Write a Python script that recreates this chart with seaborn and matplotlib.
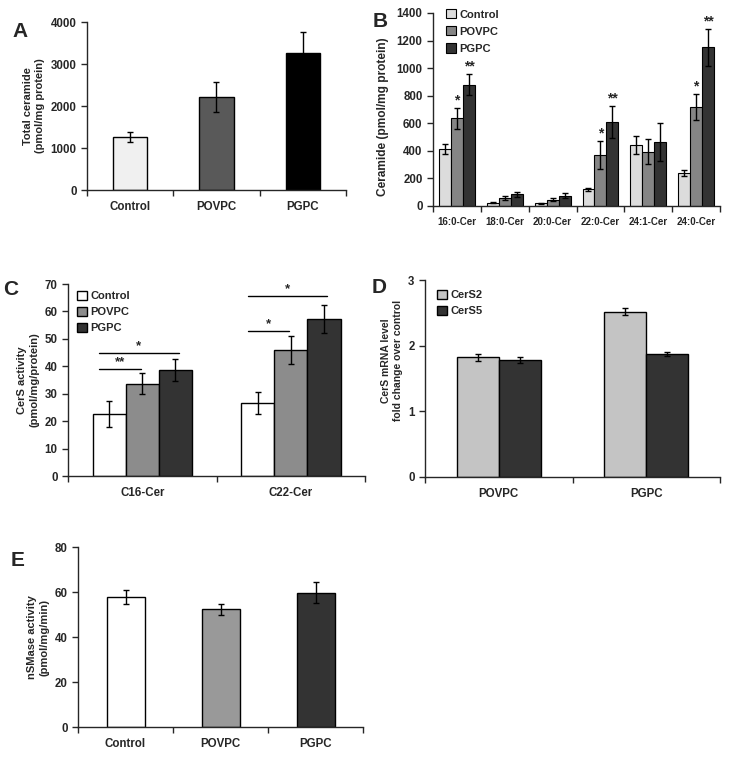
import numpy as np
import pandas as pd
import seaborn as sns
import matplotlib.pyplot as plt

# ---- data ----
treat = ['Control', 'POVPC', 'PGPC']

# A: total ceramide
a_vals = [1270, 2220, 3270]
a_err = [120, 360, 500]

# B: ceramide species
b_species = ['16:0-Cer', '18:0-Cer', '20:0-Cer', '22:0-Cer', '24:1-Cer', '24:0-Cer']
b_control = [415, 25, 20, 120, 440, 240]
b_control_err = [35, 5, 3, 8, 65, 20]
b_povpc = [635, 55, 45, 370, 395, 715]
b_povpc_err = [75, 15, 12, 100, 90, 95]
b_pgpc = [880, 85, 75, 610, 465, 1150]
b_pgpc_err = [75, 20, 18, 115, 140, 135]
b_stars_povpc = ['*', '', '', '*', '', '*']
b_stars_pgpc = ['**', '', '', '**', '', '**']

# C: CerS activity
c_subs = ['C16-Cer', 'C22-Cer']
c_control = [22.5, 26.5]
c_control_err = [4.7, 4.0]
c_povpc = [33.7, 46.0]
c_povpc_err = [3.7, 5.1]
c_pgpc = [38.8, 57.3]
c_pgpc_err = [4.0, 5.2]
# brackets: (group, target treatment, height, label)
c_brackets = [(0, 1, 38.9, '**'), (0, 2, 44.7, '*'), (1, 1, 52.9, '*'), (1, 2, 65.6, '*')]

# D: CerS mRNA
d_treat = ['POVPC', 'PGPC']
d_genes = ['CerS2', 'CerS5']
d_cers2 = [1.82, 2.52]
d_cers2_err = [0.06, 0.05]
d_cers5 = [1.78, 1.87]
d_cers5_err = [0.04, 0.03]

# E: nSMase activity
e_vals = [57.7, 52.3, 59.7]
e_err = [3.2, 2.5, 4.7]

sns.set_style('ticks')
plt.rcParams['font.family'] = ['Liberation Sans', 'DejaVu Sans']
plt.rcParams['font.weight'] = 'bold'
plt.rcParams['axes.labelweight'] = 'bold'

fig = plt.figure(figsize=(7.29, 7.57), dpi=100)


def style_axis(ax, ncat, fs=8.3, xfs=None):
    sns.despine(ax=ax)
    ax.spines['left'].set_linewidth(1.0)
    ax.spines['bottom'].set_linewidth(1.0)
    ax.set_xlim(-0.5, ncat - 0.5)
    ax.set_xticks(np.arange(-0.5, ncat, 1.0), minor=True)
    ax.tick_params(axis='x', which='major', length=0, pad=8, labelsize=xfs or fs)
    ax.tick_params(axis='x', which='minor', length=4, width=1.0, direction='out')
    ax.tick_params(axis='y', length=4, width=1.0, direction='out', labelsize=fs)
    for t in ax.get_xticklabels() + ax.get_yticklabels():
        t.set_fontweight('bold')
    ax.set_xlabel('')


def add_err(ax, container, errs):
    xs = [p.get_x() + p.get_width() / 2 for p in container]
    ys = [p.get_height() for p in container]
    ax.errorbar(xs, ys, yerr=errs, fmt='none', ecolor='black', elinewidth=1.0,
                capsize=2.2, capthick=1.0, zorder=5)
    return xs, ys


def legend_box(ax, fs, anchor, spacing=0.5):
    leg = ax.legend(loc='upper left', bbox_to_anchor=anchor, frameon=False, fontsize=fs,
                    handlelength=0.9, handleheight=0.9, handletextpad=0.3,
                    labelspacing=spacing, borderaxespad=0.0, borderpad=0.0)
    for t in leg.get_texts():
        t.set_fontweight('bold')


# ---- A ----
axA = fig.add_axes([0.1193, 0.749, 0.3553, 0.2219])
dfA = pd.DataFrame({'treat': treat, 'val': a_vals})
sns.barplot(data=dfA, x='treat', y='val', hue='treat', palette=['#f0f0f0', '#595959', '#000000'],
            width=0.4, edgecolor='black', linewidth=1.0, errorbar=None, legend=False, ax=axA)
for c, e in zip(axA.containers, a_err):
    add_err(axA, c, [e])
axA.set_ylim(0, 4000)
axA.set_yticks([0, 1000, 2000, 3000, 4000])
axA.set_ylabel('Total ceramide\n(pmol/mg protein)', fontsize=8, fontweight='bold')
style_axis(axA, 3)
fig.text(0.027, 0.959, 'A', fontsize=15, fontweight='bold', ha='center', va='center')

# ---- B ----
axB = fig.add_axes([0.594, 0.7279, 0.3937, 0.255])
dfB = pd.DataFrame({
    'species': b_species * 3,
    'treat': ['Control'] * 6 + ['POVPC'] * 6 + ['PGPC'] * 6,
    'val': b_control + b_povpc + b_pgpc,
})
sns.barplot(data=dfB, x='species', y='val', hue='treat', hue_order=treat,
            palette=['#dcdcdc', '#858585', '#333333'], width=0.75,
            edgecolor='black', linewidth=0.8, errorbar=None, ax=axB)
b_errs = [b_control_err, b_povpc_err, b_pgpc_err]
b_stars = [None, b_stars_povpc, b_stars_pgpc]
for c, errs, stars in zip(axB.containers, b_errs, b_stars):
    xs, ys = add_err(axB, c, errs)
    if stars:
        for x, y, e, s in zip(xs, ys, errs, stars):
            if s:
                axB.text(x, y + e + 5, s, ha='center', va='bottom', fontsize=10,
                         fontweight='bold')
axB.set_ylim(0, 1400)
axB.set_yticks(np.arange(0, 1401, 200))
axB.set_ylabel('Ceramide (pmol/mg protein)', fontsize=8.6, fontweight='bold')
axB.yaxis.set_label_coords(-0.155, 0.465)
style_axis(axB, 6, fs=8.3, xfs=7.0)
legend_box(axB, 8, (0.045, 1.02), spacing=0.6)
fig.text(0.521, 0.972, 'B', fontsize=15, fontweight='bold', ha='center', va='center')

# ---- C ----
axC = fig.add_axes([0.0933, 0.3712, 0.4074, 0.2536])
dfC = pd.DataFrame({
    'sub': c_subs * 3,
    'treat': ['Control'] * 2 + ['POVPC'] * 2 + ['PGPC'] * 2,
    'val': c_control + c_povpc + c_pgpc,
})
sns.barplot(data=dfC, x='sub', y='val', hue='treat', hue_order=treat,
            palette=['#ffffff', '#8c8c8c', '#333333'], width=0.67,
            edgecolor='black', linewidth=1.0, errorbar=None, ax=axC)
c_errs = [c_control_err, c_povpc_err, c_pgpc_err]
c_x = []
for c, errs in zip(axC.containers, c_errs):
    xs, _ = add_err(axC, c, errs)
    c_x.append(xs)
bw = axC.containers[0][0].get_width()
for g, tgt, h, lab in c_brackets:
    x0 = c_x[0][g] - 0.3 * bw
    x1 = c_x[tgt][g] + (0.1 * bw if tgt == 2 else -0.05 * bw)
    axC.plot([x0, x1], [h, h], color='black', lw=1.0)
    axC.text((x0 + x1) / 2, h + 0.4, lab, ha='center', va='bottom', fontsize=9.5,
             fontweight='bold')
axC.set_ylim(0, 70)
axC.set_yticks(np.arange(0, 71, 10))
axC.set_ylabel('CerS activity\n(pmol/mg/protein)', fontsize=8, fontweight='bold')
style_axis(axC, 2)
legend_box(axC, 8, (0.03, 0.965))
fig.text(0.015, 0.618, 'C', fontsize=15, fontweight='bold', ha='center', va='center')

# ---- D ----
axD = fig.add_axes([0.583, 0.3699, 0.4047, 0.2602])
dfD = pd.DataFrame({
    'treat': d_treat * 2,
    'gene': ['CerS2'] * 2 + ['CerS5'] * 2,
    'val': d_cers2 + d_cers5,
})
sns.barplot(data=dfD, x='treat', y='val', hue='gene', hue_order=d_genes,
            palette=['#c4c4c4', '#333333'], width=0.57,
            edgecolor='black', linewidth=1.0, errorbar=None, ax=axD)
for c, errs in zip(axD.containers, [d_cers2_err, d_cers5_err]):
    add_err(axD, c, errs)
axD.set_ylim(0, 3)
axD.set_yticks([0, 1, 2, 3])
axD.set_ylabel('CerS mRNA level\nfold change over control', fontsize=7.5, fontweight='bold')
axD.yaxis.set_label_coords(-0.075, 0.59)
style_axis(axD, 2)
legend_box(axD, 8, (0.04, 0.95))
fig.text(0.52, 0.62, 'D', fontsize=15, fontweight='bold', ha='center', va='center')

# ---- E ----
axE = fig.add_axes([0.107, 0.0396, 0.391, 0.2378])
dfE = pd.DataFrame({'treat': treat, 'val': e_vals})
sns.barplot(data=dfE, x='treat', y='val', hue='treat', palette=['#ffffff', '#999999', '#333333'],
            width=0.4, edgecolor='black', linewidth=1.0, errorbar=None, legend=False, ax=axE)
for c, e in zip(axE.containers, e_err):
    add_err(axE, c, [e])
axE.set_ylim(0, 80)
axE.set_yticks([0, 20, 40, 60, 80])
axE.set_ylabel('nSMase activity\n(pmol/mg/min)', fontsize=8, fontweight='bold')
style_axis(axE, 3)
fig.text(0.024, 0.259, 'E', fontsize=15, fontweight='bold', ha='center', va='center')

fig.savefig('out.png', dpi=100)
